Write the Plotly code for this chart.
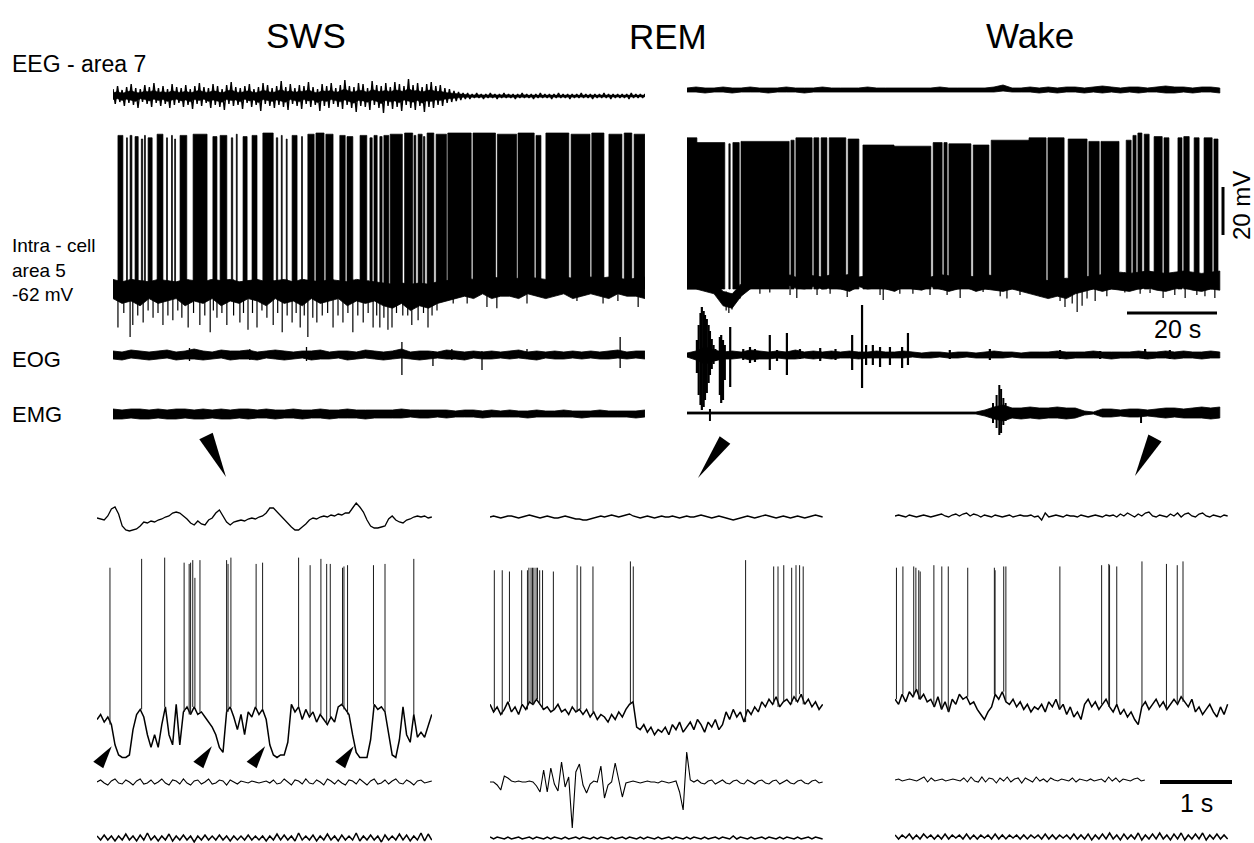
import plotly.graph_objects as go

W, H = 1254, 843
INK = "#000000"
FONT = "Liberation Sans, Arial, Helvetica, sans-serif"

# ============================ DATA ============================
# ---- top: long recordings, time in s ----
TOP_T_SWS = 118.2
TOP_T_WR = 118.4          # REM -> Wake recording

# EEG area 7 (a.u., + up), min/max per bin
eeg_sws_hi = [7,10,6,9,12,8,7,11,9,13, 8,10,7,12,9,8,11,7,10,13, 9,8,12,10,7,11,14,9,8,10,
              12,7,9,13,11,8,10,15,9,12, 8,11,10,14,9,7,12,10,13,8, 11,16,10,9,13,12,8,15,11,10,
              13,9,14,12,10,17,11,13,9,12, 14,10,11,8,7,5,4,3,3,2, 3,2,2,3,2,2,3,2,2,2,
              3,2,2,2,3,2,2,2,3,2, 2,2,2,3,2,2,2,2,3,2, 2,2,2,2,3,2,2,2]
eeg_sws_lo = [-8,-6,-10,-7,-9,-12,-6,-8,-11,-7, -10,-8,-12,-9,-7,-11,-9,-13,-8,-10, -7,-12,-9,-11,-14,-8,-10,-9,-13,-7,
              -11,-9,-15,-8,-10,-12,-9,-11,-14,-8, -10,-13,-8,-11,-9,-15,-10,-12,-8,-11, -13,-9,-12,-16,-10,-11,-14,-9,-12,-17,
              -10,-13,-11,-15,-9,-12,-14,-10,-16,-11, -12,-9,-10,-7,-6,-5,-4,-3,-3,-2, -2,-3,-2,-2,-3,-2,-2,-2,-3,-2,
              -2,-2,-3,-2,-2,-2,-3,-2,-2,-2, -3,-2,-2,-2,-2,-3,-2,-2,-2,-3, -2,-2,-2,-3,-2,-2,-2,-2]
eeg_wr_hi = [2,3,2,2,3,2,2,3,2,2, 2,3,2,2,2,3,2,2,2,2, 3,2,2,2,2,2,2,2,3,2,
             2,2,2,2,3,5,2,2,3,2, 3,2,3,3,2,3,4,3,2,3, 3,2,3,4,3,3,2,3,3,2]
eeg_wr_lo = [-2,-2,-3,-2,-2,-3,-2,-2,-2,-3, -2,-2,-2,-3,-2,-2,-2,-2,-2,-2, -2,-2,-2,-2,-2,-2,-2,-2,-2,-2,
             -2,-2,-2,-2,-2,-1,-2,-2,-2,-3, -2,-3,-2,-2,-3,-2,-3,-2,-3,-2, -3,-2,-2,-3,-3,-2,-3,-2,-2,-3]

# EOG
eog_sws_hi = [4,3,5,4,3,4,5,3,4,6, 4,3,5,4,4,5,3,4,5,4, 3,4,4,5,3,4,4,3,5,4,
              3,4,6,3,4,4,3,5,4,3, 4,3,4,3,4,5,3,4,3,4, 3,4,3,4,3,4,5,3,4,4]
eog_sws_lo = [-4,-5,-3,-4,-5,-4,-3,-5,-4,-4, -5,-4,-3,-5,-4,-4,-5,-3,-4,-5, -4,-3,-5,-4,-4,-3,-5,-4,-3,-4,
              -5,-4,-3,-4,-5,-4,-3,-4,-4,-5, -3,-4,-4,-3,-4,-3,-4,-5,-3,-4, -4,-3,-4,-3,-4,-4,-3,-4,-3,-4]
eog_sws_evt_t = [17.0, 30.4, 43.0, 64.2, 71.1, 75.3, 82.0, 92.0, 112.7]
eog_sws_evt_hi = [7, 6, 8, 13, 4, 6, 4, 6, 18]
eog_sws_evt_lo = [-6, -5, -6, -20, -11, -5, -15, -4, -13]

eog_wr_hi = [2,4,8,5,3,4,3,5,4,3, 4,3,5,3,4,3,4,3,4,3, 3,4,3,3,4,3,2,3,3,2,
             3,3,2,3,4,3,3,2,3,3, 3,4,3,3,3,4,3,3,3,3, 4,3,3,4,3,4,3,3,4,3]
eog_wr_lo = [-2,-5,-9,-6,-4,-4,-3,-5,-4,-4, -3,-4,-4,-3,-4,-3,-4,-3,-3,-4, -3,-3,-3,-3,-3,-2,-3,-3,-2,-3,
             -3,-2,-3,-3,-3,-3,-2,-3,-3,-3, -3,-3,-4,-3,-3,-3,-3,-4,-3,-3, -3,-4,-3,-3,-4,-3,-3,-4,-3,-3]
eog_wr_evt_t = [2.2,2.6,3.0,3.3,3.7,4.0,4.4,4.8,5.1,5.5, 5.9,6.3,7.3,7.6,8.0,8.4,9.6,12.5,14.0,15.1,
                18.4,20.0,22.2,25.1,29.6,33.0,36.7,38.9,39.8,41.3, 42.9,45.1,47.8,49.1,58.4,67.3,82.9,91.8,101.8,107.3]
eog_wr_evt_hi = [15,30,42,48,44,40,36,30,24,16, 10,6,18,20,15,10,28,6,8,6,
                 20,5,22,6,7,6,20,50,10,10, 8,8,8,22,5,6,5,4,6,5]
eog_wr_evt_lo = [-18,-40,-50,-55,-52,-45,-38,-28,-20,-14, -9,-6,-40,-48,-45,-25,-32,-5,-8,-7,
                 -15,-6,-20,-4,-6,-5,-15,-33,-10,-10, -12,-10,-13,-10,-4,-5,-4,-4,-4,-4]

# EMG
emg_sws_hi = [5,4,5,5,4,5,4,5,5,4, 5,4,5,4,5,5,4,5,4,4, 5,4,4,5,4,4,5,4,4,4,
              4,4,5,4,4,4,4,4,3,4, 4,3,4,3,4,3,3,4,3,3, 4,3,3,3,4,3,3,3,3,4]
emg_sws_lo = [-5,-5,-4,-5,-5,-4,-5,-5,-4,-5, -5,-4,-5,-5,-4,-5,-4,-4,-5,-4, -4,-5,-4,-4,-5,-4,-4,-4,-5,-4,
              -4,-4,-4,-3,-4,-4,-3,-4,-3,-3, -3,-4,-3,-3,-3,-3,-4,-3,-3,-3, -3,-3,-4,-3,-3,-3,-3,-3,-4,-3]
emg_wr_hi = [1,1,1,1,1,1,1,1,1,1, 1,1,1,1,1,1,1,1,1,1, 1,1,1,1,1,1,1,1,1,1,
             1,1,1,3,6,8,5,5,6,5, 5,6,5,5,2,1,4,4,3,4, 4,3,4,5,5,4,5,6,5,6]
emg_wr_lo = [-1,-1,-1,-1,-1,-1,-1,-1,-1,-1, -1,-1,-1,-1,-1,-1,-1,-1,-1,-1, -1,-1,-1,-1,-1,-1,-1,-1,-1,-1,
             -1,-1,-1,-3,-6,-8,-5,-6,-5,-6, -5,-5,-6,-5,-2,-1,-4,-4,-3,-4, -4,-3,-4,-5,-4,-5,-5,-5,-6,-5]
emg_wr_evt_t = [5.1, 66.5, 68.0, 68.8, 69.4, 69.8, 70.3, 70.8, 100.9]
emg_wr_evt_hi = [4, 3, 10, 18, 28, 24, 15, 10, 3]
emg_wr_evt_lo = [-8, -3, -10, -15, -22, -20, -12, -8, -10]

# Intracellular area 5 (mV): firing epochs, baseline band, downward deflections
intra_sws_on = [1.1,3.0,3.8,4.9,6.3,7.0,7.8,9.8,11.9,13.0, 13.7,14.9,17.8,22.2,23.8,26.3,27.4,28.9,30.9,33.3,
                36.3,37.4,38.5,39.8,41.9,43.3,45.1,47.3,50.4,52.0, 54.9,57.1,58.0,59.3,60.2,61.6,64.8,66.9,67.8,69.0,
                69.8,71.8,74.4,80.0,85.4,90.0,94.0,96.2,101.8,106.4, 110.2,113.6,115.8]
intra_sws_off = [2.2,3.2,4.2,5.6,6.6,7.2,8.7,11.1,12.1,13.2, 13.9,16.4,20.9,23.1,25.3,26.6,27.6,29.8,32.0,35.6,
                 36.6,37.6,38.7,40.9,42.1,44.7,46.9,48.9,51.6,53.3, 56.4,57.6,58.7,59.8,61.3,64.3,66.6,67.3,68.7,69.3,
                 71.3,74.1,79.6,85.0,89.7,93.6,95.1,101.3,106.0,109.1, 113.1,115.3,118.2]
intra_sws_peak = [2,1,2,1.5,0.5,2,1,2.5,1,2, 0.5,2,2.5,1.5,2,1,2.5,1.5,2,3,
                  1,2,0.5,2,1.5,2.5,3,2.5,2,1.5, 2,1,2,1.5,2,2.5,3,2,2.5,1.5,
                  3,2.5,3,3,2.5,3,2,3,2.5,3, 2.5,3,2.5]
intra_sws_base_hi = [-58,-59,-58,-58.5,-59,-58,-58.5,-59,-58,-58.5, -59,-58,-58.5,-58,-59,-58.5,-58,-59,-58.5,-58,
                     -59,-58,-58.5,-59,-58,-58.5,-59,-58,-58.5,-59, -59.5,-60,-59.5,-60,-59.5,-60,-59,-58.5,-58,-57.5,
                     -58,-57.5,-57,-57.5,-58,-57.5,-57,-57.5,-58,-57.5, -57,-57.5,-58,-57,-57.5,-57,-57.5,-58,-57.5,-57]
intra_sws_base_lo = [-66,-68,-67,-69,-66,-68,-67,-66,-69,-67, -68,-66,-69,-67,-68,-66,-67,-69,-66,-68,
                     -67,-69,-66,-68,-67,-66,-69,-67,-68,-67, -69,-70,-68,-71,-69,-70,-68,-67,-66,-65,
                     -66,-64,-66,-65,-65,-66,-64,-65,-66,-65, -64,-66,-65,-64,-65,-66,-64,-65,-65,-66]
intra_sws_dip_t = [1.1,2.4,3.8,4.4,5.5,6.7,7.8,8.9,10.0,11.1, 12.2,13.3,14.4,15.3,16.7,17.9,19.3,20.4,21.6,22.3,
                   23.1,24.2,25.3,26.8,28.2,29.0,30.0,31.0,32.0,33.1, 34.2,35.6,36.6,37.6,38.7,39.8,40.7,41.6,42.5,43.3,
                   44.4,45.3,46.5,47.7,48.9,50.0,51.1,52.2,53.3,54.4, 55.6,56.7,57.8,58.6,59.3,60.2,61.1,62.0,63.0,64.4,
                   65.5,66.4,67.8,69.0,70.0,70.9,72.0,75.6,78.7,83.1, 85.3,92.0,103.1,108.9,112.2,116.7]
intra_sws_dip_v = [-78,-72,-82,-77,-73,-76,-71,-74,-72,-77, -73,-75,-71,-74,-78,-72,-77,-73,-80,-71,
                   -74,-72,-77,-73,-76,-72,-79,-72,-78,-71, -74,-77,-72,-80,-73,-76,-72,-78,-73,-82,
                   -74,-76,-73,-72,-78,-73,-76,-72,-80,-73, -76,-72,-78,-73,-78,-74,-79,-78,-72,-73,
                   -73,-77,-75,-72,-78,-73,-71,-68,-68,-69.5, -70,-68,-67,-68,-67,-69.5]

intra_wr_on = [0.0,2.2,9.3,10.2,12.0,23.1,24.2,28.2,29.8,31.6, 35.8,39.1,46.0,54.7,57.1,58.2,63.6,67.6,76.0,80.2,
               84.7,89.3,92.0,97.6,99.1,100.2,101.6,103.8,106.0,109.1, 110.4,112.7,114.9,117.1]
intra_wr_off = [2.2,8.4,9.6,11.6,22.7,23.8,27.8,29.3,31.1,35.3, 38.2,46.0,54.2,56.7,57.8,63.1,67.1,76.0,79.8,83.8,
                88.9,91.6,96.0,98.7,99.8,101.1,102.7,105.6,107.1,110.0, 111.6,113.8,116.7,118.0]
intra_wr_peak = [1,-1,-1.5,-1,-0.5,0,1,1,1,1, 0.5,-2,-2.5,-1,-1,-1.5,-2,0,1,1,
                 0.5,-0.5,-0.5,0,2,3,2.5,1.5,1,1, 1.5,1,1,0.5]
intra_wr_base_hi = [-57,-57.5,-58,-59,-63,-64,-60,-57,-56,-56, -56.5,-56,-57,-56,-56.5,-57,-56,-56.5,-56,-57,
                    -56.5,-56,-57,-56.5,-56,-57,-56.5,-57,-56,-56.5, -57,-56.5,-57,-56,-56.5,-56,-57,-56.5,-57.5,-58,
                    -58.5,-58,-57.5,-58,-57,-56.5,-56,-55.5,-55,-55.5, -55,-54.5,-55,-55.5,-55,-54.5,-55,-55.5,-55,-54.5]
intra_wr_base_lo = [-62,-62,-63,-64,-69,-70,-65,-62,-60,-60.5, -61,-60,-61.5,-62,-61,-62,-61.5,-62,-63,-61,
                    -62,-61.5,-62,-63,-61,-62,-62.5,-61,-62,-63, -62,-61.5,-63,-62,-62.5,-63,-62,-63,-64,-65,
                    -66,-65,-66,-64,-63,-62,-63,-62,-62.5,-63, -62,-61.5,-62.5,-63,-62,-61.5,-62.5,-63,-62,-62.5]
intra_wr_dip_t = [8.7,9.3,10.0,10.7,11.8,16.2,18.4,22.9,24.4,28.9, 31.8,35.6,42.9,43.6,47.3,50.2,54.0,57.8,60.7,65.8,
                  69.6,71.1,74.0,78.4,80.7,82.9,84.0,85.6,86.7,87.8, 88.9,90.7,93.3,97.3,100.7,102.9,105.8,108.4,110.7,113.3,
                  115.1,117.3]
intra_wr_dip_v = [-71,-72,-70.5,-68,-66,-64,-63.5,-64.5,-65.8,-64.5, -64,-65.3,-64.5,-66.6,-64,-64,-64.5,-64.5,-65.8,-63.3,
                  -65,-66,-64.5,-65,-64,-67,-69.5,-68,-71.6,-69, -66,-67,-65,-63.5,-64,-63.7,-65.8,-64.5,-65.8,-64.5,
                  -65,-65.8]

# ---- bottom: expanded 4.6 s windows ----
IN_T_SWS = 4.65
IN_T_REM = 4.62
IN_T_WAKE = 4.62
IN_T_WAKE_EOG = 3.47

in_sws_eeg = [0,-1,-2,2,9,11,4,-8,-12,-13, -12,-11,-8,-4,-5,-3,-4,-2,-1,1, 2,5,6,5,2,-1,-5,-7,-3,-6,
              -7,-2,0,5,8,2,-4,-7,-4,-3, -2,-3,-1,0,-1,1,2,5,10,10, 6,2,-1,-5,-9,-12,-12,-9,-6,-2,
              0,-1,1,2,1,3,2,4,3,5, 5,10,15,11,6,-2,-8,-10,-10,-9, -8,-1,2,-2,-4,-5,-2,-1,1,2, 1,2,0,1]
in_sws_vm = [-61,-59,-62,-60,-63,-71,-75,-76,-76,-75, -65,-59,-57,-60,-67,-72,-67,-72,-63,-56,
             -67,-71,-55,-71,-58,-56,-59,-56,-59,-58, -60,-62,-64,-67,-72,-74,-58,-56,-60,-65,
             -59,-67,-58,-60,-56,-59,-57,-61,-71,-75, -76,-75,-75,-70,-55,-58,-56,-61,-57,-60,
             -58,-62,-59,-61,-63,-60,-62,-56,-55,-57, -59,-67,-74,-76,-76,-76,-69,-55,-57,-56,
             -58,-67,-75,-76,-69,-56,-67,-70,-59,-68, -66,-68,-63,-59]
in_sws_spk_t = [0.18,0.62,0.94,1.21,1.28,1.30,1.33,1.36,1.43,1.80, 1.82,1.86,2.21,2.30,2.80,2.96,3.11,3.19,3.24,3.41,
                3.43,3.48,3.84,4.00,4.40]
in_sws_spk_peak = [-1,2.5,3,1,0.5,1,2,-5,2,2, 0.5,3,0.5,1,3,0,2.5,0.5,0.5,-1, -0.5,0,0,0.5,2.5]
in_sws_arrow_t = [0.08, 1.47, 2.21, 3.44]
in_sws_arrow_v = [-76.5, -76.5, -76.5, -76.5]
in_sws_eog = [0,2,-1,-3,1,3,-1,-2,2,0, -3,1,3,-2,-1,2,-2,0,3,-1, -3,2,1,-2,3,-1,-3,1,2,-2,
              0,3,-2,-1,2,1,-3,2,0,-2, 1,0,-1,1,0,-1,0,1,-1,2, -2,-1,3,0,-3,2,1,-2,3,-1,
              -2,2,0,-3,3,1,-2,2,-1,-3, 2,1,-2,3,0,-3,1,3,-2,-1, 2,-2,1,3,-1,-2,2,0,-3,1, 2,-1,0,1]
in_sws_emg = [2,-2,3,-2,2,-3,2,-2,4,-2, 2,-3,3,-2,5,-2,2,-3,2,-2, 4,-3,2,-2,3,-2,2,-4,2,-2,
              3,-2,2,-2,3,-2,2,-3,2,-2, 2,-2,3,-2,2,-2,2,-3,2,-2, 4,-2,3,-2,2,-3,5,-2,2,-2,
              3,-3,2,-2,4,-2,2,-3,3,-2, 2,-2,5,-3,2,-2,3,-2,2,-4, 3,-2,2,-2,4,-2,3,-3,2,-2, 5,-3,4,-2]

in_rem_eeg = [0,1,0,-1,0,1,1,0,-1,0, 1,2,1,0,-1,0,1,0,-1,-1, 0,1,0,-1,-2,-2,-3,-3,-2,-1,
              0,1,0,1,2,1,0,1,2,3, 1,0,-1,0,1,0,-1,0,1,0, 0,1,0,-1,0,1,0,0,1,2,
              1,0,-1,0,1,0,-1,-2,-3,-2, -1,0,1,0,-1,0,1,2,1,0, -1,0,1,0,-1,0,1,0,-1,0, 1,2,1,0]
in_rem_vm = [-55,-58,-56,-59,-57,-54,-58,-56,-59,-55,-57, -54,-55,-53,-55,
             -57,-56,-58,-57,-55,-58,-57,-59,-56,-58,-57,
             -59,-57,-60,-58,-61,-59,-60,-62,-59,-61,-58,-60,-57, -55,-54, -64,
             -65,-63,-66,-64,-67,-65,-66,-64,-67,-63,-65,-62,-66,-64,
             -62,-65,-61,-63,-66,-62,-64,-61,-65,-63,
             -58,-61,-57,-60,-58,-62,-57,-59,-56,-58,
             -54,-56,-53,-55,-52,-56,-54,-53,-55,
             -52,-54,-51,-55,-53,-56,-54,-57,-55]
in_rem_spk_t = [0.06,0.17,0.27,0.44,0.52,0.54,0.57,0.59,0.61,0.64, 0.66,0.69,0.73,0.88,1.21,1.26,1.43,1.95,1.99,3.55,
                3.94,4.00,4.08,4.19,4.25,4.30,4.35]
in_rem_spk_peak = [-2,-2,-2.5,-2,-2,-1,-1,-1,-1,-1, -1,-2,-2,-2.5,0,-0.5,-0.5,1.5,-0.5,2,
                   -0.5,-0.5,0,-1,0,0,-0.5]
in_rem_eog = [0,0,-3,-8,6,4,1,0,1,0,0,1,0,
              -4,-10,12,-10,14,-2,-9,20,-5,5,-46,10,18,-3,-11,-2,1,0,16,-16,-3,0,19,2,-15,-1,0,
              1,0,-1,0,1,0,0,-1,1,0,-1,0,1,
              -10,-28,30,2,0,
              2,-1,-2,1,2,-2,0,2,-1,-2,1,2,-1,-2,2,0,-2,1,2,-1,-2,1,2,-2,0,2,-1,-2,1,2,-1,-2,1,2,-1,0]
in_rem_emg = [1,-1,1,0,-1,1,-1,0,1,-1, 0,1,-1,1,0,-1,1,-1,1,0, -1,1,-1,0,1,-1,1,0,-1,1,
              -1,1,0,-1,1,-1,0,1,-1,1, 0,-1,1,-1,1,0,-1,1,-1,0, 1,-1,1,0,-1,1,-1,1,0,-1,
              1,-1,0,1,-1,1,0,-1,2,-1, 1,0,-1,1,-1,0,1,-1,1,0, -1,1,-1,1,0,-1,1,-1,0,1, -1,1,0,-1]

in_wake_eeg = [0,1,0,-1,1,0,-1,0,1,0, -1,0,1,2,0,-1,1,2,0,2, 3,0,2,1,-1,1,0,-1,1,0,
               -1,0,1,-1,0,1,0,0,1,-1, 0,-4,3,-1,0,1,0,-1,1,0, 0,-1,1,0,-1,0,1,0,-1,1,
               0,1,-1,2,0,3,1,-1,2,0, 3,4,0,-1,1,0,-1,2,0,3, -1,2,3,0,-1,2,3,0,-1,1, 0,-1,1,0]
in_wake_vm = [-53,-55,-51,-54, -50,-52,-49,-53,-51,-54, -53,-56,-52,-57,-54,-58,-53,-55,
              -51,-53,-52,-55,-54, -57,-59,-61,-58,-56, -51,-53,-50,-54, -55,-53,-56,-54,
              -57,-55,-58,-56,-57,-55,-58,-54, -56,-53,-57,-55,-59,-56,-60,-58,-61,
              -55,-53,-56,-54,-57,-55,-53,-56, -58,-55,-59,-57,-60,-58,-61,-63,
              -56,-54,-57,-55,-53,-56,-54,-57,-55,-53, -55,-52,-54,-56,-53,
              -58,-56,-59,-57,-55,-58,-60,-56,-59,-55]
in_wake_spk_t = [0.02,0.11,0.26,0.29,0.33,0.35,0.54,0.65,0.74,1.01, 1.38,1.39,1.51,1.54,2.29,2.87,2.97,2.98,3.08,3.43,
                 3.77,3.92,4.00]
in_wake_spk_peak = [-1,-0.5,-0.5,-1,-2,-2.5,0,-0.5,-0.5,-1, -1,-2,-0.5,-0.5,-0.5,0,0.5,0,-0.5,1.5, 0.5,0,1.5]
in_wake_eog = [0,1,-1,0,1,0,-1,1,3,-2, 2,-1,0,1,-1,0,1,0,-1,2, -2,3,-1,-2,3,-2,2,1,-3,2,
               -1,3,-2,1,2,-3,2,0,-2,3, -1,1,-2,2,0,-1,1,0,-1,2, -2,1,0,-1,1,-1,0,1,-2,3,
               -1,2,-2,1,0,-1,1,2,-1,0]
in_wake_emg = [2,-2,2,-1,3,-2,2,-2,3,-1, 2,-2,2,-2,3,-2,2,-1,2,-2, 3,-2,2,-2,2,-1,2,-2,3,-2,
               2,-2,2,-1,2,-2,2,-2,2,-1, 2,-2,3,-2,2,-2,2,-1,2,-2, 3,-2,2,-2,3,-3,2,-2,3,-2,
               4,-2,2,-3,3,-2,2,-2,4,-3, 2,-2,3,-2,4,-2,2,-3,3,-2, 4,-3,2,-2,3,-2,4,-3,2,-2, 3,-2,2,-2]

SCALE_TOP_MV = 20
SCALE_TOP_S = 20
SCALE_IN_S = 1

# ============================ LAYOUT GEOMETRY ============================
TOP_PPS = 4.5          # px per second, top recordings
IN_PPS = 72.0          # px per second, insets
TOP_SWS_X = (113, 645)
TOP_WR_X = (687, 1254)
IN_SWS_X = (97, 432)
IN_REM_X = (490, 823)
IN_WAKE_X = (895, 1240)
IN_VM_REF = (-60, 717, 2.53)   # mV, px, px per mV

fig = go.Figure()
axes_layout = {}
_k = [0]


def new_axes(px_l, px_r, px_t, px_b, xr, yr):
    _k[0] += 1
    k = _k[0]
    s = "" if k == 1 else str(k)
    axes_layout["xaxis" + s] = dict(domain=[px_l / W, px_r / W], range=xr, visible=False,
                                    fixedrange=True, anchor="y" + s)
    axes_layout["yaxis" + s] = dict(domain=[1 - px_b / H, 1 - px_t / H], range=yr, visible=False,
                                    fixedrange=True, anchor="x" + s)
    return ("x" + s, "y" + s)


def band_axes(xpx, pps, center, half=62):
    t = max(0, center - half)
    b = min(H, center + half)
    return new_axes(xpx[0], xpx[1], t, b, [0, (xpx[1] - xpx[0]) / pps], [center - b, center - t])


def vm_axes(xpx, pps, px_t, px_b, v_ref, px_ref, px_per_mv):
    yr = [v_ref - (px_b - px_ref) / px_per_mv, v_ref + (px_ref - px_t) / px_per_mv]
    return new_axes(xpx[0], xpx[1], px_t, px_b, [0, (xpx[1] - xpx[0]) / pps], yr)


def add(ax, **kw):
    fig.add_trace(go.Scatter(xaxis=ax[0], yaxis=ax[1], hoverinfo="skip", showlegend=False, **kw))


def band(ax, T, hi, lo, lw=0.8):
    n, m = len(hi), len(lo)
    th = [T * i / (n - 1) for i in range(n)]
    tl = [T * i / (m - 1) for i in range(m)]
    x = th + tl[::-1] + [th[0]]
    y = list(hi) + list(lo)[::-1] + [hi[0]]
    add(ax, x=x, y=y, mode="lines", fill="toself", fillcolor=INK, line=dict(color=INK, width=lw))


def zigzag(ax, T, hi, lo, lw=1.3):
    n = min(len(hi), len(lo))
    dt = T / (n - 1)
    x, y = [], []
    for i in range(n):
        x += [i * dt, i * dt + dt / 2]
        y += [hi[i], lo[i]]
    add(ax, x=x, y=y, mode="lines", line=dict(color=INK, width=lw))


def vlines(ax, ts, tops, bots, lw=1.3, color=INK):
    x, y = [], []
    for t, a, b in zip(ts, tops, bots):
        x += [t, t, None]
        y += [b, a, None]
    add(ax, x=x, y=y, mode="lines", line=dict(color=color, width=lw))


def trace(ax, T, v, lw=1.2, color=INK):
    n = len(v)
    add(ax, x=[T * i / (n - 1) for i in range(n)], y=v, mode="lines", line=dict(color=color, width=lw))


def blocks(ax, on, off, peak, base):
    x, y = [], []
    for a, b, p in zip(on, off, peak):
        x += [a, a, b, b, a, None]
        y += [base, p, p, base, base, None]
    add(ax, x=x, y=y, mode="lines", fill="toself", fillcolor=INK, line=dict(color=INK, width=0.7))


def nearest(vals, T, t):
    n = len(vals)
    i = int(round(t / T * (n - 1)))
    return vals[max(0, min(n - 1, i))]


# ---------------- top: SWS ----------------
ax = band_axes(TOP_SWS_X, TOP_PPS, 96)
zigzag(ax, TOP_T_SWS, eeg_sws_hi, eeg_sws_lo, lw=1.4)
band(ax, TOP_T_SWS, [v * 0.45 for v in eeg_sws_hi], [v * 0.45 for v in eeg_sws_lo], lw=0.5)
ax_int_sws = vm_axes(TOP_SWS_X, TOP_PPS, 115, 350, -62, 289, 2.4)
band(ax_int_sws, TOP_T_SWS, intra_sws_base_hi, intra_sws_base_lo)
blocks(ax_int_sws, intra_sws_on, intra_sws_off, intra_sws_peak, -62)
vlines(ax_int_sws, intra_sws_dip_t,
       [nearest(intra_sws_base_hi, TOP_T_SWS, t) for t in intra_sws_dip_t], intra_sws_dip_v, lw=1.2)
add(ax_int_sws, x=[-2.4], y=[-62], mode="markers", cliponaxis=False,
    marker=dict(symbol="triangle-right", size=15, color=INK))
ax = band_axes(TOP_SWS_X, TOP_PPS, 355)
band(ax, TOP_T_SWS, eog_sws_hi, eog_sws_lo)
vlines(ax, eog_sws_evt_t, eog_sws_evt_hi, eog_sws_evt_lo)
ax = band_axes(TOP_SWS_X, TOP_PPS, 414)
band(ax, TOP_T_SWS, emg_sws_hi, emg_sws_lo)

# ---------------- top: REM -> Wake ----------------
ax = band_axes(TOP_WR_X, TOP_PPS, 90)
band(ax, TOP_T_WR, eeg_wr_hi, eeg_wr_lo)
ax_int_wr = vm_axes(TOP_WR_X, TOP_PPS, 115, 350, -62, 289, 2.4)
band(ax_int_wr, TOP_T_WR, intra_wr_base_hi, intra_wr_base_lo)
blocks(ax_int_wr, intra_wr_on, intra_wr_off, intra_wr_peak, -62)
vlines(ax_int_wr, intra_wr_dip_t,
       [nearest(intra_wr_base_hi, TOP_T_WR, t) for t in intra_wr_dip_t], intra_wr_dip_v, lw=1.2)
# scale bars (20 mV, 20 s)
sb_t = (1223 - TOP_WR_X[0]) / TOP_PPS
sb_v = -39.5
add(ax_int_wr, x=[sb_t, sb_t], y=[sb_v, sb_v + SCALE_TOP_MV], mode="lines", line=dict(color=INK, width=3))
sh_t = (1127 - TOP_WR_X[0]) / TOP_PPS
add(ax_int_wr, x=[sh_t, sh_t + SCALE_TOP_S], y=[-72, -72], mode="lines", line=dict(color=INK, width=3))
ax = band_axes(TOP_WR_X, TOP_PPS, 355)
band(ax, TOP_T_WR, eog_wr_hi, eog_wr_lo)
vlines(ax, eog_wr_evt_t, eog_wr_evt_hi, eog_wr_evt_lo, lw=2.2)
ax = band_axes(TOP_WR_X, TOP_PPS, 413)
band(ax, TOP_T_WR, emg_wr_hi, emg_wr_lo)
vlines(ax, emg_wr_evt_t, emg_wr_evt_hi, emg_wr_evt_lo, lw=2.0)

# ---------------- insets ----------------
def inset(xpx, T, eeg, eeg_c, vm, spk_t, spk_pk, eog, eog_c, eog_T, emg, emg_c):
    a1 = band_axes(xpx, IN_PPS, eeg_c, half=40)
    trace(a1, T, eeg, lw=1.3)
    a2 = vm_axes(xpx, IN_PPS, 545, 790, *IN_VM_REF)
    trace(a2, T, vm, lw=1.5)
    vlines(a2, spk_t, spk_pk, [nearest(vm, T, t) for t in spk_t], lw=1.0, color="#1a1a1a")
    a3 = band_axes(xpx, IN_PPS, eog_c, half=60)
    trace(a3, eog_T, eog, lw=1.1)
    a4 = band_axes(xpx, IN_PPS, emg_c, half=30)
    trace(a4, T, emg, lw=1.5)
    return a2, a3


a_sws_vm, _ = inset(IN_SWS_X, IN_T_SWS, in_sws_eeg, 518, in_sws_vm, in_sws_spk_t, in_sws_spk_peak,
                    in_sws_eog, 782, IN_T_SWS, in_sws_emg, 838)
inset(IN_REM_X, IN_T_REM, in_rem_eeg, 517, in_rem_vm, in_rem_spk_t, in_rem_spk_peak,
      in_rem_eog, 782, IN_T_REM, in_rem_emg, 838)
_, a_wake_eog = inset(IN_WAKE_X, IN_T_WAKE, in_wake_eeg, 516, in_wake_vm, in_wake_spk_t, in_wake_spk_peak,
                      in_wake_eog, 780, IN_T_WAKE_EOG, in_wake_emg, 837)
bar_t = (1160 - IN_WAKE_X[0]) / IN_PPS
add(a_wake_eog, x=[bar_t, bar_t + SCALE_IN_S], y=[-2, -2], mode="lines", line=dict(color=INK, width=4))

# ---------------- text ----------------
annotations = []


def text(s, px, py, size, xanchor="center", angle=0):
    annotations.append(dict(text=s, x=px / W, y=1 - py / H, xref="paper", yref="paper",
                            xanchor=xanchor, yanchor="middle", showarrow=False, textangle=angle,
                            align="left", font=dict(family=FONT, size=size, color=INK)))


text("SWS", 306, 36, 35)
text("REM", 668, 37, 35)
text("Wake", 1030, 36, 35)
text("EEG - area 7", 10, 64, 23, "left")
text("Intra - cell<br>area 5<br>-62 mV", 10, 270, 19, "left")
text("EOG", 10, 360, 22, "left")
text("EMG", 10, 414, 22, "left")
text("20 mV", 1241, 206, 24, angle=-90)
text("20 s", 1177, 329, 25)
text("1 s", 1196, 803, 25)

# arrowheads (paper-space wedges)
shapes = []


def wedge(pts):
    path = "M " + " L ".join(f"{px / W:.5f},{1 - py / H:.5f}" for px, py in pts) + " Z"
    shapes.append(dict(type="path", xref="paper", yref="paper", path=path, fillcolor=INK,
                       line=dict(width=0)))


# big ones pointing to the expanded windows
wedge([(199.3, 439.3), (212.7, 432.7), (226, 477)])
wedge([(719.7, 436.2), (730.3, 443.8), (698, 478)])
wedge([(1148.4, 434.5), (1161.6, 441.5), (1135, 476)])

# small ones marking the SWS down-states (placed from the inset time / voltage scale)
v_ref, px_ref, ppmv = IN_VM_REF
for t, v in zip(in_sws_arrow_t, in_sws_arrow_v):
    cx = IN_SWS_X[0] + t * IN_PPS
    cy = px_ref - (v - v_ref) * ppmv
    wedge([(cx + 9, cy - 12.5), (cx - 9.5, cy + 3), (cx + 0.5, cy + 9.5)])

fig.update_layout(width=W, height=H, autosize=False, margin=dict(l=0, r=0, t=0, b=0, pad=0),
                  paper_bgcolor="white", plot_bgcolor="rgba(0,0,0,0)", showlegend=False,
                  annotations=annotations, shapes=shapes, **axes_layout)
fig.write_html("out.html")
